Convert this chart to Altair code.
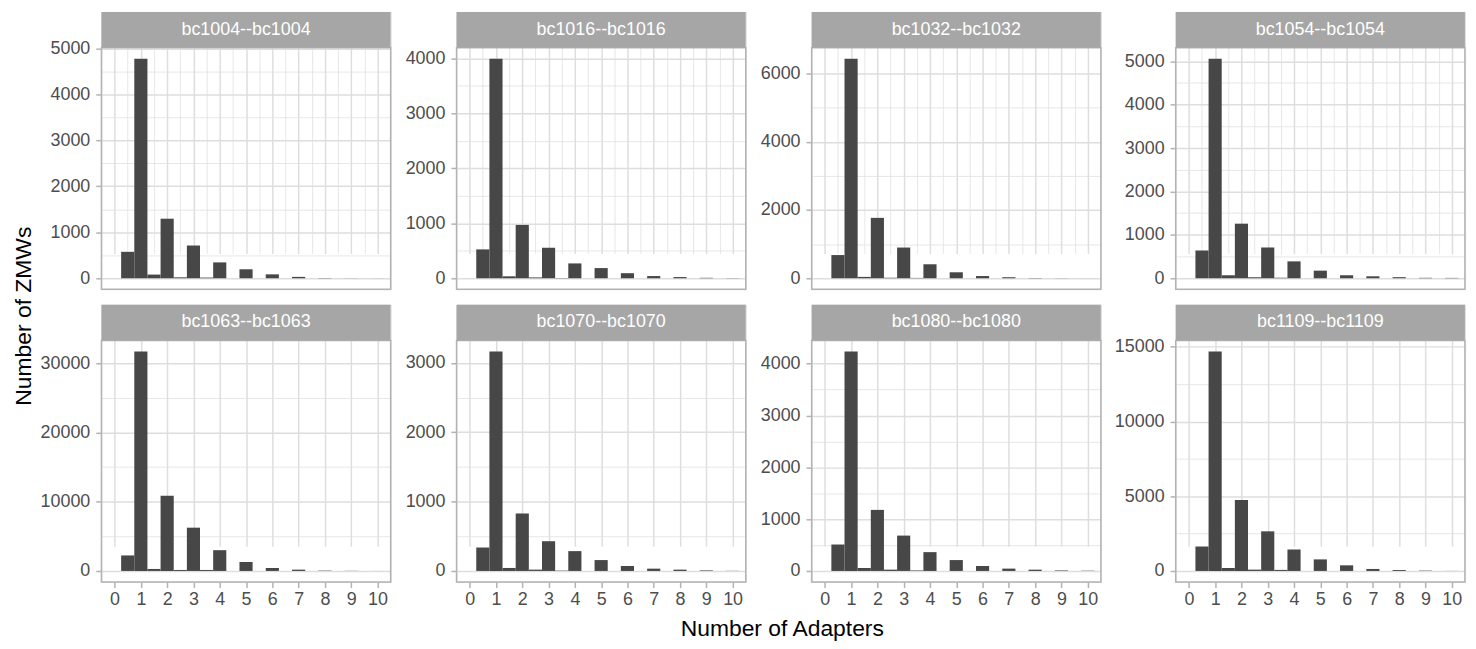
import altair as alt
import pandas as pd

# ---------------- data ----------------
FACETS = ["bc1004--bc1004", "bc1016--bc1016", "bc1032--bc1032", "bc1054--bc1054",
          "bc1063--bc1063", "bc1070--bc1070", "bc1080--bc1080", "bc1109--bc1109"]

BIN_CENTERS = [0.5, 1.0, 1.5, 2.0, 2.5, 3.0, 3.5, 4.0, 4.5, 5.0,
               5.5, 6.0, 6.5, 7.0, 7.5, 8.0, 8.5, 9.0, 9.5, 10.0]
BIN_WIDTH = 0.5

COUNTS_BC1004 = [575, 4775, 80, 1295, 20, 712, 15, 345, 0, 195, 0, 85, 0, 30, 0, 6, 0, 2, 0, 1]
COUNTS_BC1016 = [525, 3995, 35, 970, 15, 555, 5, 270, 0, 185, 0, 92, 0, 40, 0, 22, 0, 8, 0, 3]
COUNTS_BC1032 = [680, 6435, 40, 1770, 15, 900, 10, 410, 0, 175, 0, 65, 0, 30, 0, 8, 0, 3, 0, 1]
COUNTS_BC1054 = [640, 5060, 69, 1258, 23, 709, 12, 389, 0, 175, 0, 69, 0, 45, 0, 25, 0, 10, 0, 8]
COUNTS_BC1063 = [2240, 31710, 286, 10870, 143, 6250, 143, 3000, 0, 1290, 0, 430, 0, 190, 0, 50, 0, 20, 0, 5]
COUNTS_BC1070 = [338, 3167, 43, 829, 19, 429, 5, 286, 0, 157, 0, 71, 0, 33, 0, 19, 0, 8, 0, 2]
COUNTS_BC1080 = [510, 4236, 57, 1178, 25, 682, 10, 363, 0, 210, 0, 96, 0, 45, 0, 25, 0, 10, 0, 5]
COUNTS_BC1109 = [1635, 14690, 199, 4749, 88, 2651, 70, 1436, 0, 773, 0, 376, 0, 133, 0, 60, 0, 22, 0, 5]

ALL_COUNTS = [COUNTS_BC1004, COUNTS_BC1016, COUNTS_BC1032, COUNTS_BC1054,
              COUNTS_BC1063, COUNTS_BC1070, COUNTS_BC1080, COUNTS_BC1109]

Y_BREAK_STEP = [1000, 1000, 2000, 1000, 10000, 1000, 1000, 5000]
X_LIMITS = [0, 10]
X_BREAKS = list(range(0, 11))

X_TITLE = "Number of Adapters"
Y_TITLE = "Number of ZMWs"

# ---------------- style ----------------
FONT = "Liberation Sans"
W, STRIP, PANEL_H = 291, 36, 243
H = STRIP + PANEL_H
BAR = "#474747"
STRIP_FILL = "#A6A6A6"
BORDER = "#B3B3B3"
GRID = "#DEDEDE"
LABEL = "#4D4D4D"
LABEL_SIZE = 18
TITLE_SIZE = 23
TICK = 5.7
EXTENT = [62.5, 53, 53, 62.5]

xpad = 0.05 * (X_LIMITS[1] - X_LIMITS[0])
x_domain = [X_LIMITS[0] - xpad, X_LIMITS[1] + xpad]
x_values = sorted(X_BREAKS + [b + 0.5 for b in X_BREAKS[:-1]])


def panel(i):
    name = FACETS[i]
    counts = ALL_COUNTS[i]
    df = pd.DataFrame({"center": BIN_CENTERS, "count": counts})
    ymax = max(counts)
    lo, hi = -0.05 * ymax, 1.05 * ymax
    step = Y_BREAK_STEP[i]
    majors = [k * step for k in range(0, int(hi // step) + 1)]
    minors = [m + step / 2 for m in majors if m + step / 2 <= hi]
    y_values = sorted(majors + minors)
    bottom = i >= 4
    col = i % 4

    y_minor = f"datum.value % {step} != 0"
    x_minor = "datum.value % 1 != 0"

    yaxis = alt.Axis(
        values=y_values, format="d", title=None, domain=False,
        labelExpr=f"datum.value % {step} == 0 ? datum.label : ''",
        labelFont=FONT, labelFontSize=LABEL_SIZE, labelColor=LABEL,
        labelPadding=6, labelOverlap=False,
        tickColor=BORDER, tickSize=TICK, tickWidth=1.5,
        tickOpacity={"condition": {"test": y_minor, "value": 0}, "value": 1},
        grid=True, gridColor=GRID,
        gridWidth={"condition": {"test": y_minor, "value": 0.75}, "value": 1.5},
        minExtent=EXTENT[col], maxExtent=EXTENT[col],
    )
    if bottom:
        xaxis = alt.Axis(
            values=x_values, format="d", title=None, domain=False,
            labelExpr="datum.value % 1 == 0 ? datum.label : ''",
            labelFont=FONT, labelFontSize=LABEL_SIZE, labelColor=LABEL,
            labelPadding=3, labelOverlap=False, labelFlush=False,
            tickColor=BORDER, tickSize=TICK, tickWidth=1.5,
            tickOpacity={"condition": {"test": x_minor, "value": 0}, "value": 1},
            grid=True, gridColor=GRID,
            gridWidth={"condition": {"test": x_minor, "value": 0.75}, "value": 1.5},
        )
    else:
        xaxis = alt.Axis(
            values=x_values, title=None, domain=False, labels=False, ticks=False,
            grid=True, gridColor=GRID,
            gridWidth={"condition": {"test": x_minor, "value": 0.75}, "value": 1.5},
        )

    bars = alt.Chart(df).transform_calculate(
        x0=f"datum.center - {BIN_WIDTH / 2}",
        x1=f"datum.center + {BIN_WIDTH / 2}",
    ).mark_rect(color=BAR).encode(
        x=alt.X("x0:Q", scale=alt.Scale(domain=x_domain, nice=False, zero=False), axis=xaxis),
        x2="x1:Q",
        y=alt.Y("count:Q", scale=alt.Scale(domain=[lo, hi], range=[H, STRIP], nice=False, zero=False),
                axis=yaxis),
        y2=alt.datum(0),
    )

    lab = pd.DataFrame({"label": [name]})
    border = alt.Chart(lab).mark_rect(filled=False, stroke=BORDER, strokeWidth=1.5).encode(
        x=alt.value(0), x2=alt.value(W), y=alt.value(STRIP), y2=alt.value(H))
    strip = alt.Chart(lab).mark_rect(color=STRIP_FILL).encode(
        x=alt.value(0), x2=alt.value(W), y=alt.value(0), y2=alt.value(STRIP))
    strip_text = alt.Chart(lab).mark_text(
        color="white", font=FONT, fontSize=LABEL_SIZE, baseline="middle", align="center"
    ).encode(x=alt.value(W / 2), y=alt.value(STRIP / 2), text="label:N")

    return alt.layer(bars, border, strip, strip_text).properties(width=W, height=H)


cells = [panel(i) for i in range(8)]

grid = alt.concat(*cells, columns=4, spacing={"row": 12.5, "column": 10.3}, align="each").properties(
    title=alt.TitleParams(X_TITLE, orient="bottom", anchor="middle", dx=30, offset=9,
                          font=FONT, fontSize=TITLE_SIZE, fontWeight="normal", color="black")
)

chart = alt.vconcat(grid).properties(
    title=alt.TitleParams(Y_TITLE, orient="left", anchor="middle", offset=3, dx=10,
                          font=FONT, fontSize=TITLE_SIZE, fontWeight="normal", color="black"),
    padding={"left": 4, "top": 1, "right": 1, "bottom": 2},
).configure_view(strokeWidth=0).configure(background="white")

chart.save("out.html", embed_options={"renderer": "svg", "actions": False})
